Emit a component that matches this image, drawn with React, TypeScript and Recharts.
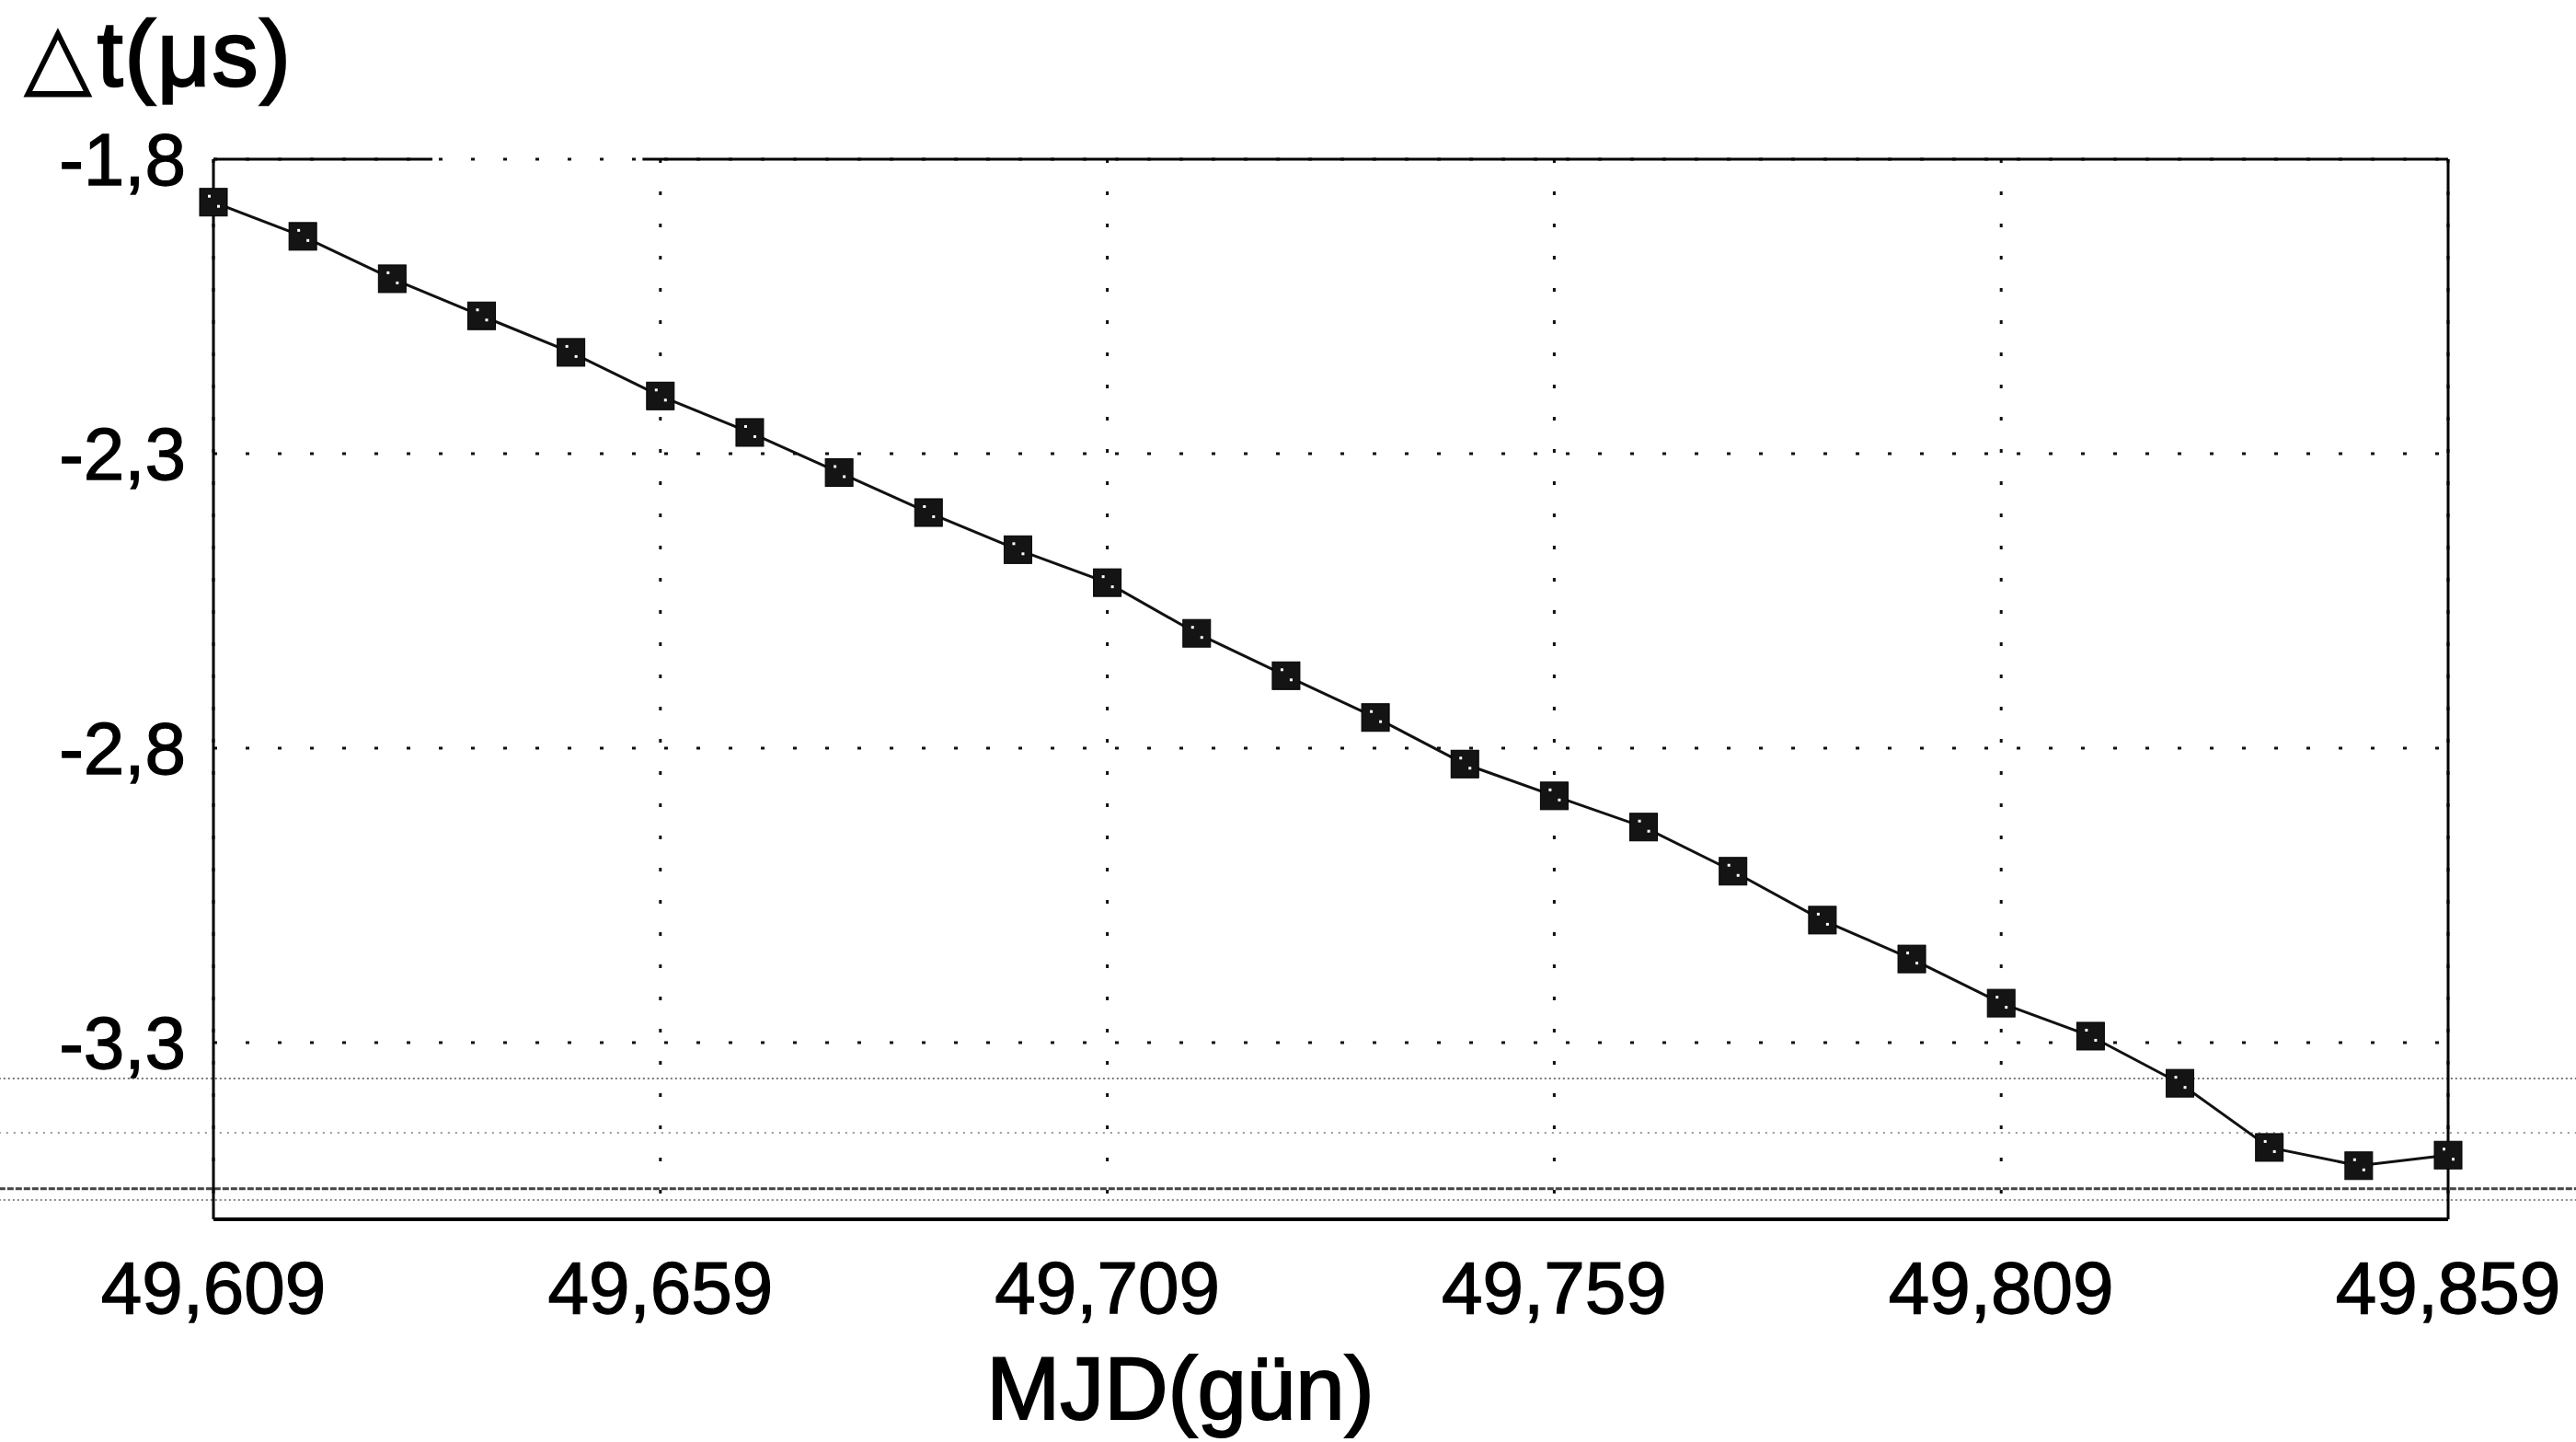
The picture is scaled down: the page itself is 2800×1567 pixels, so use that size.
import React from "react";
import { LineChart, Line, XAxis, YAxis, CartesianGrid, ReferenceLine } from "recharts";

// MJD (days) of each measurement
const mjd = [
    49609, 49619, 49629, 49639, 49649, 49659, 49669, 49679, 49689, 49699,
    49709, 49719, 49729, 49739, 49749, 49759, 49769, 49779, 49789, 49799,
    49809, 49819, 49829, 49839, 49849, 49859,
];

// time offset in microseconds
const deltaT = [
    -1.873, -1.931, -2.003, -2.066, -2.128, -2.202, -2.264, -2.332, -2.4, -2.463,
    -2.519, -2.605, -2.677, -2.748, -2.827, -2.881, -2.934, -3.009, -3.092, -3.158,
    -3.233, -3.289, -3.369, -3.478, -3.509, -3.491,
];

const xTicks = [49609, 49659, 49709, 49759, 49809, 49859];
const xTickLabels = ["49,609", "49,659", "49,709", "49,759", "49,809", "49,859"];
const yTicks = [-1.8, -2.3, -2.8, -3.3];
const yTickLabels = ["-1,8", "-2,3", "-2,8", "-3,3"];

// faint scanner streaks running across the page near the bottom
const scanLines = [-3.361, -3.453, -3.548, -3.567];
const scanStyles = [
    { stroke: "#777", dash: "2 3", width: 2 },
    { stroke: "#999", dash: "2 6", width: 2 },
    { stroke: "#444", dash: "7 2", width: 3 },
    { stroke: "#888", dash: "2 3", width: 2 },
];

const data = mjd.map((d, i) => ({ mjd: d, dt: deltaT[i] }));

const font = "'Liberation Sans', Arial, sans-serif";

const SquareDot = (props: any) => {
    const { cx, cy, index } = props;
    if (cx == null || cy == null) return null;
    return (
        <g key={`dot-${index}`}>
            <rect x={cx - 15} y={cy - 15} width={30} height={30} fill="#141414" stroke="#000" strokeWidth={1} />
            <rect x={cx - 6} y={cy - 8} width={3} height={3} fill="#fff" />
            <rect x={cx + 4} y={cy + 3} width={3} height={3} fill="#fff" />
        </g>
    );
};

const tickStyle = { fill: "#000", stroke: "#000", strokeWidth: 1.3, fontSize: 80, fontFamily: font };

export default function App() {
    return (
        <div
            style={{
                position: "absolute",
                left: 0,
                top: 0,
                width: 2800,
                height: 1567,
                background: "#fff",
                fontFamily: font,
                color: "#000",
                overflow: "hidden",
            }}
        >
            <LineChart
                width={2800}
                height={1567}
                data={data}
                margin={{ top: 173, right: 139, bottom: 0, left: 0 }}
            >
                <CartesianGrid stroke="#111" strokeWidth={3} strokeDasharray="4 31" />
                <XAxis
                    dataKey="mjd"
                    type="number"
                    domain={[49609, 49859]}
                    ticks={xTicks}
                    tickFormatter={(v: number) => xTickLabels[xTicks.indexOf(v)] ?? String(v)}
                    height={242}
                    tickSize={0}
                    tickMargin={45}
                    tickLine={false}
                    axisLine={{ stroke: "#000", strokeWidth: 4 }}
                    tick={tickStyle}
                    interval={0}
                />
                <YAxis
                    type="number"
                    domain={[-3.6, -1.8]}
                    ticks={yTicks}
                    tickFormatter={(v: number) => yTickLabels[yTicks.indexOf(v)] ?? String(v)}
                    width={232}
                    tickSize={0}
                    tickMargin={30}
                    tickLine={false}
                    axisLine={{ stroke: "#000", strokeWidth: 3 }}
                    tick={tickStyle}
                    interval={0}
                    allowDataOverflow
                />
                {scanLines.map((y, i) => (
                    <ReferenceLine
                        key={`scan-${i}`}
                        segment={[{ x: 49585, y }, { x: 49874, y }]}
                        stroke={scanStyles[i].stroke}
                        strokeDasharray={scanStyles[i].dash}
                        strokeWidth={scanStyles[i].width}
                        ifOverflow="visible"
                    />
                ))}
                <ReferenceLine x={49859} stroke="#000" strokeWidth={3} />
                <ReferenceLine segment={[{ x: 49609, y: -1.8 }, { x: 49633.5, y: -1.8 }]} stroke="#000" strokeWidth={3} />
                <ReferenceLine segment={[{ x: 49657, y: -1.8 }, { x: 49859, y: -1.8 }]} stroke="#000" strokeWidth={3} />
                <Line
                    type="linear"
                    dataKey="dt"
                    stroke="#111"
                    strokeWidth={3}
                    dot={SquareDot}
                    activeDot={false}
                    isAnimationActive={false}
                />
            </LineChart>
            <div
                style={{
                    position: "absolute",
                    left: 26,
                    top: 8,
                    fontSize: 100,
                    lineHeight: 1,
                    letterSpacing: 2,
                    whiteSpace: "nowrap",
                    WebkitTextStroke: "2.5px #000",
                }}
            >
                <span style={{ fontFamily: "'DejaVu Sans', sans-serif", fontSize: 96, letterSpacing: 6, WebkitTextStroke: "1px #000" }}>△</span>
                t(μs)
            </div>
            <div
                style={{
                    position: "absolute",
                    left: 983,
                    width: 600,
                    top: 1461,
                    fontSize: 96,
                    lineHeight: 1,
                    textAlign: "center",
                    whiteSpace: "nowrap",
                    WebkitTextStroke: "2px #000",
                }}
            >
                MJD(gün)
            </div>
        </div>
    );
}
